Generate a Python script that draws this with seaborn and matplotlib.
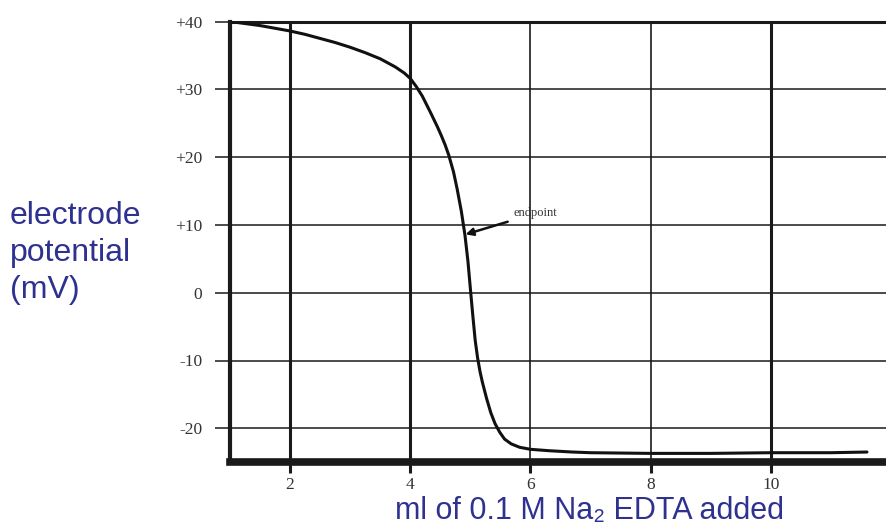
import matplotlib
matplotlib.use("Agg")
import matplotlib.pyplot as plt
import seaborn as sns
import pandas as pd

# ---- data ----
volume_ml = [1.0, 1.25, 1.5, 1.75, 2.0, 2.25, 2.5, 2.75, 3.0, 3.25, 3.5, 3.75,
             3.9, 4.0, 4.1, 4.2, 4.33, 4.45, 4.52, 4.58, 4.64, 4.72, 4.78,
             4.85, 4.91, 4.96, 5.0, 5.04, 5.08, 5.12, 5.16, 5.2, 5.27, 5.34,
             5.41, 5.49, 5.57, 5.68, 5.82, 6.0, 6.3, 6.7, 7.0, 8.0, 9.0,
             10.0, 11.0, 11.6]
potential_mv = [40.0, 39.7, 39.4, 39.0, 38.6, 38.1, 37.5, 36.9, 36.2, 35.4,
                34.5, 33.3, 32.4, 31.6, 30.4, 29.0, 26.7, 24.5, 23.1, 21.8,
                20.3, 17.8, 15.3, 12.0, 8.5, 4.6, 0.6, -3.3, -7.0, -9.6,
                -11.6, -13.2, -15.6, -17.7, -19.3, -20.6, -21.6, -22.3,
                -22.8, -23.1, -23.3, -23.5, -23.6, -23.7, -23.7, -23.6,
                -23.6, -23.5]
x_ticks = [2, 4, 6, 8, 10]
x_tick_labels = ["2", "4", "6", "8", "10"]
y_ticks = [40, 30, 20, 10, 0, -10, -20]
y_tick_labels = ["+40", "+30", "+20", "+10", "0", "-10", "-20"]
endpoint_xy = (4.92, 8.6)
endpoint_label = "endpoint"
y_title = "electrode\npotential\n(mV)"
x_title = "ml of 0.1 M Na\u2082 EDTA added"

df = pd.DataFrame({"volume": volume_ml, "potential": potential_mv})

sns.set_style("white")
plt.rcParams["font.family"] = ["Liberation Sans", "DejaVu Sans"]

W, H = 886, 526
fig = plt.figure(figsize=(W / 100, H / 100), dpi=100)
ax_left, ax_right = 230, 891
ax_top, ax_bottom = 21.5, 462.2
ax = fig.add_axes([ax_left / W, 1 - ax_bottom / H,
                   (ax_right - ax_left) / W, (ax_bottom - ax_top) / H])

sns.lineplot(data=df, x="volume", y="potential", ax=ax, color="#111111",
             linewidth=2.2, zorder=5)

ax.set_xlim(1, 12)
ax.set_ylim(-25, 40)
ax.set_xticks(x_ticks)
ax.set_xticklabels(x_tick_labels)
ax.set_yticks(y_ticks)
ax.set_yticklabels(y_tick_labels)
ax.set_xlabel("")
ax.set_ylabel("")

# grid
ax.grid(True, color="#1a1a1a")
ax.set_axisbelow(True)
xw = [2.2, 2.2, 1.2, 1.2, 2.2]
for gl, w in zip(ax.xaxis.get_gridlines(), xw):
    gl.set_linewidth(w)
for gl in ax.yaxis.get_gridlines():
    gl.set_linewidth(1.1)

# spines
for side, w in [("left", 3.0), ("bottom", 5.5), ("top", 2.2)]:
    ax.spines[side].set_visible(True)
    ax.spines[side].set_color("#1a1a1a")
    ax.spines[side].set_linewidth(w)
ax.spines["right"].set_visible(False)

tick_family = ["Liberation Serif", "DejaVu Serif"]
ax.tick_params(axis="y", direction="out", length=11, width=1.1,
               color="#1a1a1a", pad=9, labelcolor="#333333", left=True)
ax.tick_params(axis="x", direction="out", length=8, width=2.2,
               color="#1a1a1a", pad=3, labelcolor="#333333", bottom=True)
for lab in ax.get_xticklabels() + ax.get_yticklabels():
    lab.set_fontfamily(tick_family)
    lab.set_fontsize(12.5)

# annotation
ax.annotate(endpoint_label, xy=endpoint_xy, xytext=(5.72, 11.7),
            fontsize=9, family=tick_family,
            color="#333333", va="center", ha="left",
            arrowprops=dict(arrowstyle="-|>", color="#111111", lw=1.8,
                            mutation_scale=11, shrinkA=2, shrinkB=0),
            zorder=6)

# titles
blue = "#2f3190"
fig.text(10 / W, 1 - 253 / H, y_title, ha="left", va="center",
         fontsize=23, color=blue, linespacing=1.32)
fig.text(395 / W, 1 - 519 / H, x_title, ha="left", va="baseline",
         fontsize=22, color=blue)

fig.savefig("out.png", dpi=100)
